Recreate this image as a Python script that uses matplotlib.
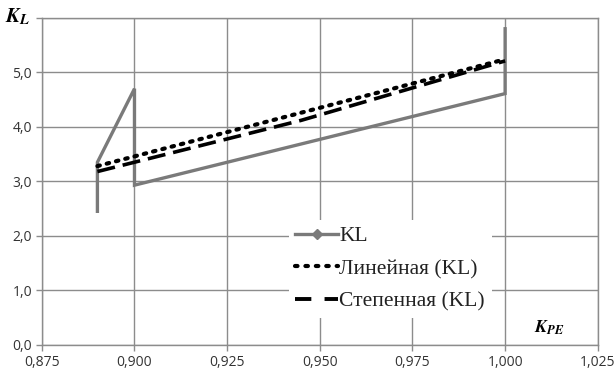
import matplotlib
matplotlib.use("Agg")
import matplotlib.pyplot as plt
from matplotlib.lines import Line2D

# Данные
kpe = [0.890, 0.890, 0.900, 0.900, 1.000, 1.000]
kl = [2.45, 3.35, 4.70, 2.93, 4.61, 5.80]

trend_x = [0.890, 1.000]
linear_kl = [3.28, 5.24]
power_x = [0.890, 0.945, 1.000]
power_kl = [3.18, 4.12, 5.21]

x_ticks = [0.875, 0.900, 0.925, 0.950, 0.975, 1.000, 1.025]
x_labels = ["0,875", "0,900", "0,925", "0,950", "0,975", "1,000", "1,025"]
y_ticks = [0, 1, 2, 3, 4, 5, 6]
y_labels = ["0,0", "1,0", "2,0", "3,0", "4,0", "5,0", ""]

GRID = "#8c8c8c"
KL_COLOR = "#7a7a7a"

plt.rcParams["mathtext.fontset"] = "stix"

fig = plt.figure(figsize=(6.15, 3.72), dpi=100)
ax = fig.add_axes([0.068, 0.073, 0.904, 0.879])

ax.plot(kpe, kl, color=KL_COLOR, lw=2.4, solid_joinstyle="miter")
ax.plot(trend_x, linear_kl, color="black", lw=3, linestyle=(0, (0.6, 1.7)),
        dash_capstyle="round")
ax.plot(power_x, power_kl, color="black", lw=2.6, linestyle=(0, (5, 2.2)))

ax.set_xlim(0.875, 1.025)
ax.set_ylim(0, 6)
ax.set_xticks(x_ticks, x_labels)
ax.set_yticks(y_ticks, y_labels)
ax.grid(True, color=GRID, lw=1)
ax.set_axisbelow(True)
for s in ax.spines.values():
    s.set_color(GRID)
    s.set_linewidth(1)
ax.tick_params(axis="both", direction="out", length=4, color=GRID, width=1,
               labelsize=10, pad=3)
for lab in ax.get_xticklabels() + ax.get_yticklabels():
    lab.set_fontfamily("Open Sans")
    lab.set_color("#333333")

# легенда: маркер-ромб только в легенде
handles = [
    Line2D([], [], color=KL_COLOR, lw=2.4, marker="D", markersize=5),
    Line2D([], [], color="black", lw=3, linestyle=(0, (0.6, 1.9)), dash_capstyle="round"),
    Line2D([], [], color="black", lw=2.8, linestyle=(0, (4.2, 3.4))),
]
leg = ax.legend(handles, ["KL", "Линейная (KL)", "Степенная (KL)"],
                loc="upper left", bbox_to_anchor=(0.425, 0.415),
                prop={"family": "Liberation Serif", "size": 15.5},
                frameon=True, facecolor="white", edgecolor="none", framealpha=1,
                handlelength=2.0, handletextpad=0.05, labelspacing=0.58,
                borderpad=0.3, fancybox=False)
for t in leg.get_texts():
    t.set_color("#222222")

fig.text(0.008, 0.955, r"$\mathbfit{K}_{\mathbfit{L}}$", fontsize=15, ha="left", va="center")
fig.text(0.868, 0.12, r"$\mathbfit{K}_{\mathbfit{PE}}$", fontsize=13, ha="left", va="center")

fig.savefig("out.png", dpi=100)
